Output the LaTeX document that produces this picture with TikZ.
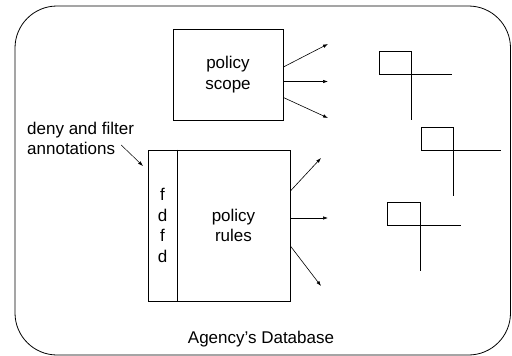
\documentclass[tikz,border=0pt]{standalone}
\usepackage{fontspec}
\setmainfont{Liberation Sans}
\usetikzlibrary{arrows.meta}
\begin{document}
\begin{tikzpicture}[x=1pt,y=-1pt,
  txt/.style={font=\fontsize{17}{20.6}\selectfont, inner sep=0pt},
  box/.style={txt, draw, line width=0.8pt, align=center},
  ptr/.style={-{Latex[length=5pt,width=3.5pt]}, line width=0.6pt},
  target/.style={line width=0.8pt}
]
\useasboundingbox (0,0) rectangle (512,356);

% database boundary
\draw[line width=0.8pt, rounded corners=42pt] (15,6) rectangle (510.5,355);
\node[txt] (db) at (261,339) {Agency’s Database};

% policy scope and its outgoing pointers
\node[box, minimum width=110pt, minimum height=91pt] (scope) at (228,74.5) {policy\\scope};
\coordinate (s1) at (328,44);
\coordinate (s2) at (328,81.5);
\coordinate (s3) at (328,118);
\draw[ptr] ([yshift=7.5pt]scope.east) -- (s1);
\draw[ptr] ([yshift=-7pt]scope.east) -- (s2);
\draw[ptr] ([yshift=-23pt]scope.east) -- (s3);

% policy rules with the annotation strip
\node[box, minimum width=29pt, minimum height=151pt] (strip) at (162.5,225.5) {f\\d\\f\\d};
\node[box, minimum width=113pt, minimum height=151pt] (rules) at (233.5,225.5) {policy\\rules};
\draw[line width=1.6pt] (strip.north east) -- (strip.south east);
\coordinate (r1) at (321,158);
\coordinate (r2) at (328,218);
\coordinate (r3) at (321,286);
\draw[ptr] ([yshift=34.5pt]rules.east) -- (r1);
\draw[ptr] ([yshift=7.5pt]rules.east) -- (r2);
\draw[ptr] ([yshift=-20.5pt]rules.east) -- (r3);

% annotation label
\node[txt, align=left, anchor=west] (ann) at (27,138.5) {deny and filter\\annotations};
\coordinate (annTip) at (143,166);
\draw[ptr, line width=0.5pt] ([xshift=-13pt,yshift=-6.5pt]ann.east) -- (annTip);

% target markers
\draw[target] (379,51) rectangle (411,74);
\draw[target] (405,74) -- (452,74);
\draw[target] (411,74) -- (411,120);

\draw[target] (421,127) rectangle (453,150);
\draw[target] (447,150) -- (501,150);
\draw[target] (453,150) -- (453,196);

\draw[target] (387,202) rectangle (420,225);
\draw[target] (413,225) -- (461,225);
\draw[target] (420,225) -- (420,271);
\end{tikzpicture}
\end{document}
